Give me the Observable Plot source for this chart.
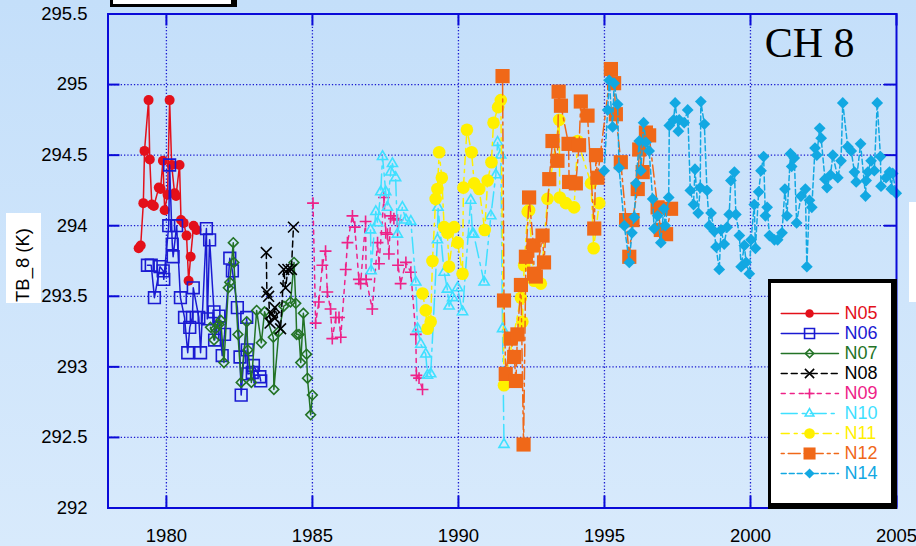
<!DOCTYPE html>
<html>
<head>
<meta charset="utf-8">
<script src="https://cdn.jsdelivr.net/npm/d3@7"></script>
<script src="https://cdn.jsdelivr.net/npm/@observablehq/plot@0.6"></script>
<style>
  html, body { margin: 0; padding: 0; }
  body {
    width: 916px; height: 546px; overflow: hidden; position: relative;
    background: linear-gradient(#c4dffa, #d8eafc);
    font-family: "Liberation Sans", Arial, sans-serif;
  }
  #chart { position: absolute; left: 0; top: 0; z-index: 2; }
  .box { position: absolute; background: #fff; box-sizing: border-box; }
  #ylab { left: 6px; top: 213px; width: 35px; height: 90px; z-index: 1; }
  #tag { left: 110px; top: -10px; width: 127px; height: 17px; border: 3px solid #000; border-right-width: 6px; z-index: 3; }
  #edge { left: 909px; top: 202px; width: 7px; height: 100px; z-index: 1; }
  #legend { left: 768px; top: 279px; width: 129px; height: 230px; border-style: solid; border-color: #000;
            border-width: 4px 6px 6px 3px; z-index: 3; }
  #legend svg, #ylab svg { display: block; }
</style>
</head>
<body>
<div id="ylab" class="box"></div>
<div id="tag" class="box"></div>
<div id="edge" class="box"></div>
<div id="chart"></div>
<div id="legend" class="box"></div>
<script>
// Channel 8 brightness temperature by satellite, [decimal year, TB_8 in K]
const N05 = [[1979.05,293.84],[1979.12,293.86],[1979.21,294.16],[1979.25,294.53],[1979.39,294.89],[1979.43,294.47],
  [1979.50,294.15],[1979.57,294.14],[1979.74,294.27],[1979.80,294.26],[1979.88,294.46],[1979.94,294.11],[1980.04,294.22],
  [1980.11,294.89],[1980.18,294.43],[1980.28,294.23],[1980.33,294.21],[1980.45,294.43],[1980.50,294.04],[1980.59,294.02],
  [1980.69,293.93],[1980.76,293.61],[1980.83,293.78],[1980.93,294.00],[1981.03,293.97]];
const N06 = [[1979.35,293.72],[1979.48,293.72],[1979.59,293.49],[1979.78,293.71],[1979.89,293.68],[1979.91,293.62],
  [1980.08,294.00],[1980.11,294.43],[1980.20,293.87],[1980.23,293.78],[1980.35,294.00],[1980.48,293.49],[1980.62,293.35],
  [1980.73,293.10],[1980.80,293.28],[1980.89,293.35],[1980.92,293.56],[1981.11,293.35],[1981.17,293.10],[1981.37,293.98],
  [1981.40,293.34],[1981.48,293.90],[1981.63,293.39],[1981.65,293.19],[1981.80,293.36],[1981.91,293.08],[1981.99,293.23],
  [1982.17,293.77],[1982.26,293.68],[1982.43,293.42],[1982.52,293.07],[1982.56,292.80],[1982.75,293.35],[1982.77,293.12],
  [1982.79,292.95],[1982.94,292.96],[1982.98,293.01],[1983.20,292.93],[1983.23,292.90]];
const N07 = [[1981.51,293.28],[1981.63,293.19],[1981.68,293.27],[1981.80,293.30],[1981.86,293.33],[1981.97,293.03],
  [1982.12,293.56],[1982.17,293.60],[1982.29,293.88],[1982.31,293.74],[1982.45,293.23],[1982.56,292.89],[1982.75,293.32],
  [1982.79,293.12],[1982.91,292.89],[1983.09,293.40],[1983.25,293.17],[1983.36,293.39],[1983.66,293.21],[1983.68,292.84],
  [1983.85,293.25],[1984.02,293.43],[1984.25,293.46],[1984.37,293.74],[1984.43,293.45],[1984.46,293.23],[1984.54,293.23],
  [1984.60,293.03],[1984.69,293.38],[1984.80,293.09],[1984.83,292.92],[1984.94,292.66],[1985.00,292.80]];
const N08 = [[1983.42,293.81],[1983.44,293.53],[1983.50,293.50],[1983.55,293.31],[1983.60,293.38],[1983.68,293.35],
  [1983.71,293.42],[1983.91,293.27],[1984.02,293.69],[1984.08,293.56],[1984.16,293.69],[1984.28,293.69],[1984.35,293.99]];
const N09 = [[1985.02,294.16],[1985.11,293.31],[1985.22,293.46],[1985.34,293.72],[1985.45,293.82],[1985.51,293.53],
  [1985.62,293.41],[1985.68,293.20],[1985.80,293.35],[1985.91,293.35],[1985.97,293.21],[1986.14,293.69],[1986.20,293.88],
  [1986.37,294.07],[1986.45,293.99],[1986.59,293.62],[1986.65,293.59],[1986.82,294.03],[1986.84,293.62],[1987.05,293.41],
  [1987.23,293.88],[1987.28,293.73],[1987.45,294.20],[1987.51,293.95],[1987.57,293.94],[1987.62,293.80],[1987.68,294.07],
  [1987.79,294.05],[1987.91,294.04],[1987.93,293.72],[1988.02,293.59],[1988.20,293.74],[1988.37,293.67],[1988.54,293.23],
  [1988.56,292.94],[1988.65,292.92],[1988.77,292.84]];
const N10 = [[1986.99,293.97],[1987.01,293.68],[1987.17,294.10],[1987.23,294.02],[1987.34,294.24],[1987.40,294.49],
  [1987.51,294.24],[1987.57,294.13],[1987.68,294.38],[1987.74,294.44],[1987.85,294.34],[1987.91,293.94],[1988.08,294.13],
  [1988.20,294.04],[1988.37,294.03],[1988.54,293.60],[1988.60,293.27],[1988.71,293.16],[1988.88,293.09],[1988.94,292.94],
  [1989.05,292.95],[1989.28,293.90],[1989.30,294.13],[1989.51,293.67],[1989.62,293.55],[1989.68,293.43],[1989.80,293.49],
  [1989.97,293.56],[1990.14,293.39],[1990.42,294.18],[1990.48,293.94],[1990.52,293.94],[1990.88,293.60],[1991.11,294.07],
  [1991.28,294.36],[1991.34,294.59],[1991.45,294.50],[1991.51,293.27],[1991.56,292.45]];
const N11 = [[1988.77,293.52],[1988.88,293.40],[1988.94,293.27],[1989.05,293.32],[1989.11,293.75],[1989.22,294.19],
  [1989.28,294.26],[1989.34,294.52],[1989.43,294.34],[1989.51,293.99],[1989.62,293.95],[1989.68,293.71],[1989.85,293.99],
  [1989.97,293.88],[1990.14,293.66],[1990.17,294.27],[1990.29,294.68],[1990.45,294.52],[1990.54,294.30],[1990.71,294.26],
  [1990.90,293.97],[1991.00,294.32],[1991.13,294.45],[1991.20,294.73],[1991.36,294.84],[1991.45,294.89],[1991.56,292.87],
  [1992.14,293.49],[1992.19,293.32],[1992.25,293.72],[1992.37,294.10],[1992.42,294.11],[1992.59,293.61],[1992.82,293.59],
  [1993.05,294.19],[1993.45,294.75],[1993.47,294.20],[1993.68,294.16],[1993.96,294.13],[1994.08,294.60],[1994.54,294.30],
  [1994.63,293.84],[1994.82,294.16]];
const N12 = [[1991.51,295.06],[1991.56,293.47],[1991.62,292.95],[1991.79,293.20],[1991.91,293.07],[1991.97,292.90],
  [1992.02,293.23],[1992.14,293.58],[1992.23,292.45],[1992.31,293.78],[1992.42,294.20],[1992.57,293.86],[1992.59,293.66],
  [1992.65,293.64],[1992.88,293.93],[1992.93,293.74],[1993.11,294.33],[1993.22,294.60],[1993.39,294.46],[1993.43,294.95],
  [1993.51,294.85],[1993.77,294.58],[1993.79,294.31],[1994.02,294.30],[1994.13,294.57],[1994.19,294.88],[1994.42,294.78],
  [1994.65,293.98],[1994.71,294.50],[1994.76,294.34],[1995.22,295.11],[1995.33,295.01],[1995.39,294.79],[1995.56,294.45],
  [1995.74,294.04],[1995.85,293.78],[1995.96,294.04],[1996.14,294.26],[1996.19,294.54],[1996.31,294.38],[1996.42,294.66],
  [1996.53,294.64],[1996.82,294.13],[1996.93,293.97],[1997.11,293.94],[1997.28,294.12]];
const N14 = [[1994.99,294.39],[1995.11,294.82],[1995.16,295.03],[1995.28,294.70],[1995.33,295.01],[1995.45,294.86],
  [1995.50,294.41],[1995.68,294.00],[1995.85,293.74],[1995.94,293.95],[1996.02,294.06],[1996.08,294.30],[1996.19,294.60],
  [1996.25,294.39],[1996.34,294.73],[1996.42,294.59],[1996.53,294.53],[1996.65,294.19],[1996.70,293.98],[1996.82,294.07],
  [1996.93,293.88],[1997.03,294.12],[1997.08,294.00],[1997.20,294.20],[1997.22,294.71],[1997.37,294.75],[1997.42,294.87],
  [1997.53,294.67],[1997.56,294.75],[1997.73,294.73],[1997.85,294.82],[1997.94,294.25],[1998.05,294.15],[1998.10,294.40],
  [1998.21,294.09],[1998.28,294.27],[1998.30,294.88],[1998.42,294.72],[1998.51,294.25],[1998.59,294.00],[1998.65,294.09],
  [1998.76,293.96],[1998.82,293.85],[1998.93,293.69],[1998.99,293.97],[1999.10,293.87],[1999.20,293.99],[1999.27,294.08],
  [1999.33,294.32],[1999.45,294.38],[1999.50,294.08],[1999.62,293.93],[1999.68,293.71],[1999.79,293.86],[1999.85,293.74],
  [1999.96,293.66],[2000.02,293.90],[2000.13,294.15],[2000.17,293.84],[2000.28,294.24],[2000.36,294.39],[2000.45,294.49],
  [2000.51,294.07],[2000.57,294.13],[2000.65,293.93],[2000.82,293.90],[2000.93,293.90],[2001.08,293.95],[2001.18,294.26],
  [2001.25,294.07],[2001.37,294.51],[2001.41,294.42],[2001.50,294.48],[2001.58,294.02],[2001.73,294.21],[2001.88,294.26],
  [2001.93,293.71],[2002.02,294.18],[2002.10,294.13],[2002.21,294.55],[2002.27,294.50],[2002.37,294.69],[2002.42,294.62],
  [2002.55,294.33],[2002.62,294.27],[2002.74,294.36],[2002.82,294.50],[2002.99,294.34],[2003.10,294.46],[2003.16,294.87],
  [2003.33,294.56],[2003.45,294.53],[2003.56,294.38],[2003.62,294.31],[2003.77,294.58],[2003.94,294.21],[2003.96,294.32],
  [2004.02,294.38],[2004.13,294.46],[2004.24,294.39],[2004.34,294.87],[2004.45,294.49],[2004.47,294.28],[2004.64,294.34],
  [2004.76,294.38],[2004.82,294.26],[2004.87,294.37],[2004.99,294.23]];

const seriesNames = ["N05", "N06", "N07", "N08", "N09", "N10", "N11", "N12", "N14"];
const seriesData = [N05, N06, N07, N08, N09, N10, N11, N12, N14];
const yearTicks = [1980, 1985, 1990, 1995, 2000, 2005];
const tempTicks = [292, 292.5, 293, 293.5, 294, 294.5, 295, 295.5];
const chartTitle = "CH 8";
const axisTitle = "TB_8 (K)";

// Line and marker style for each satellite
const styles = {
  N05: {color: "#e3101a", symbol: "circle",   filled: true,  r: 5,   dash: null},
  N06: {color: "#1a1ad2", symbol: "square",   filled: false, r: 6.6, dash: null},
  N07: {color: "#237326", symbol: "diamond2", filled: false, r: 4.4, dash: null},
  N08: {color: "#000000", symbol: "times",    filled: false, r: 5,   dash: "6,4"},
  N09: {color: "#ee2288", symbol: "plus",     filled: false, r: 3.9, dash: "4,5"},
  N10: {color: "#3fe0ff", symbol: "triangle2",filled: false, r: 4.8, dash: "16,5,3,5"},
  N11: {color: "#fff000", symbol: "circle",   filled: true,  r: 6.3, dash: "8,5,3,5"},
  N12: {color: "#f06818", symbol: "square",   filled: true,  r: 8,   dash: "3,4,12,4"},
  N14: {color: "#12a8e2", symbol: "diamond2", filled: true,  r: 5.3, dash: "5,3"}
};

const axisColor = "#0a0ad8";
const gridColor = "#1a1ad0";
const W = 916, H = 546, mL = 107.5, mR = 20, mT = 13.5, mB = 38.5;
const innerW = W - mL - mR, innerH = H - mT - mB;

const seriesMarks = seriesNames.flatMap((name, i) => {
  const s = styles[name];
  return [
    Plot.line(seriesData[i], {x: d => d[0], y: d => d[1], stroke: s.color, strokeWidth: 1.5, strokeDasharray: s.dash}),
    Plot.dot(seriesData[i], {x: d => d[0], y: d => d[1], symbol: s.symbol, r: s.r,
      fill: s.filled ? s.color : "none", stroke: s.filled ? "none" : s.color, strokeWidth: 1.6})
  ];
});

const chart = Plot.plot({
  width: W, height: H,
  marginLeft: mL, marginRight: mR, marginTop: mT, marginBottom: mB,
  style: {background: "transparent", fontSize: "18.5px", fontFamily: "'Liberation Sans', Arial, sans-serif", color: "#000", overflow: "visible"},
  x: {domain: [1978, 2005]},
  y: {domain: [292, 295.5]},
  marks: [
    // dotted grid
    Plot.ruleX(yearTicks.slice(0, -1), {stroke: gridColor, strokeWidth: 1.3, strokeDasharray: "1.3,2"}),
    Plot.ruleY(tempTicks.slice(1, -1), {stroke: gridColor, strokeWidth: 1.3, strokeDasharray: "1.3,2"}),
    // inward tick marks on all four sides
    Plot.ruleY(tempTicks, {stroke: axisColor, strokeWidth: 2, insetRight: innerW - 12}),
    Plot.ruleY(tempTicks, {stroke: axisColor, strokeWidth: 2, insetLeft: innerW - 12}),
    Plot.ruleX(yearTicks, {stroke: axisColor, strokeWidth: 2, insetTop: innerH - 12}),
    Plot.ruleX(yearTicks, {stroke: axisColor, strokeWidth: 2, insetBottom: innerH - 12}),
    ...seriesMarks,
    Plot.frame({stroke: axisColor, strokeWidth: 2}),
    Plot.axisX(yearTicks, {tickSize: 0, tickPadding: 21, tickFormat: d => String(d), label: null}),
    Plot.axisY(tempTicks, {tickSize: 0, tickPadding: 20.5, tickFormat: d => String(d), label: null}),
    Plot.text([chartTitle], {frameAnchor: "top-right", dx: -42, dy: 13.5, lineAnchor: "top", textAnchor: "end",
      fontFamily: "'Liberation Serif', 'Times New Roman', serif", fontSize: 42, fill: "#000"})
  ]
});
document.getElementById("chart").appendChild(chart);

// Legend: short line sample, marker and label per satellite
const legendMarks = seriesNames.flatMap(name => {
  const s = styles[name];
  return [
    Plot.line([{x: 0.081, name}, {x: 0.558, name}], {x: "x", y: "name", stroke: s.color, strokeWidth: 1.5, strokeDasharray: s.dash}),
    Plot.dot([{x: 0.317, name}], {x: "x", y: "name", symbol: s.symbol, r: s.r * 0.85,
      fill: s.filled ? s.color : "none", stroke: s.filled ? "none" : s.color, strokeWidth: 1.6}),
    Plot.text([{x: 0.608, name}], {x: "x", y: "name", text: "name", fill: s.color, textAnchor: "start",
      fontSize: 18, fontFamily: "'Liberation Sans', Arial, sans-serif"})
  ];
});
const legend = Plot.plot({
  width: 120, height: 220, margin: 0,
  style: {background: "transparent", overflow: "visible"},
  x: {domain: [0, 1], range: [0, 120], axis: null},
  y: {type: "point", domain: seriesNames, range: [17.7, 202.7], axis: null},
  marks: legendMarks
});
document.getElementById("legend").appendChild(legend);

// Rotated y-axis title
const ylab = d3.select("#ylab").append("svg").attr("width", 35).attr("height", 90);
ylab.append("text")
  .attr("transform", "translate(23,89) rotate(-90)")
  .attr("font-size", 18.5)
  .attr("font-family", "'Liberation Sans', Arial, sans-serif")
  .attr("fill", "#000")
  .text(axisTitle);
</script>
</body>
</html>
